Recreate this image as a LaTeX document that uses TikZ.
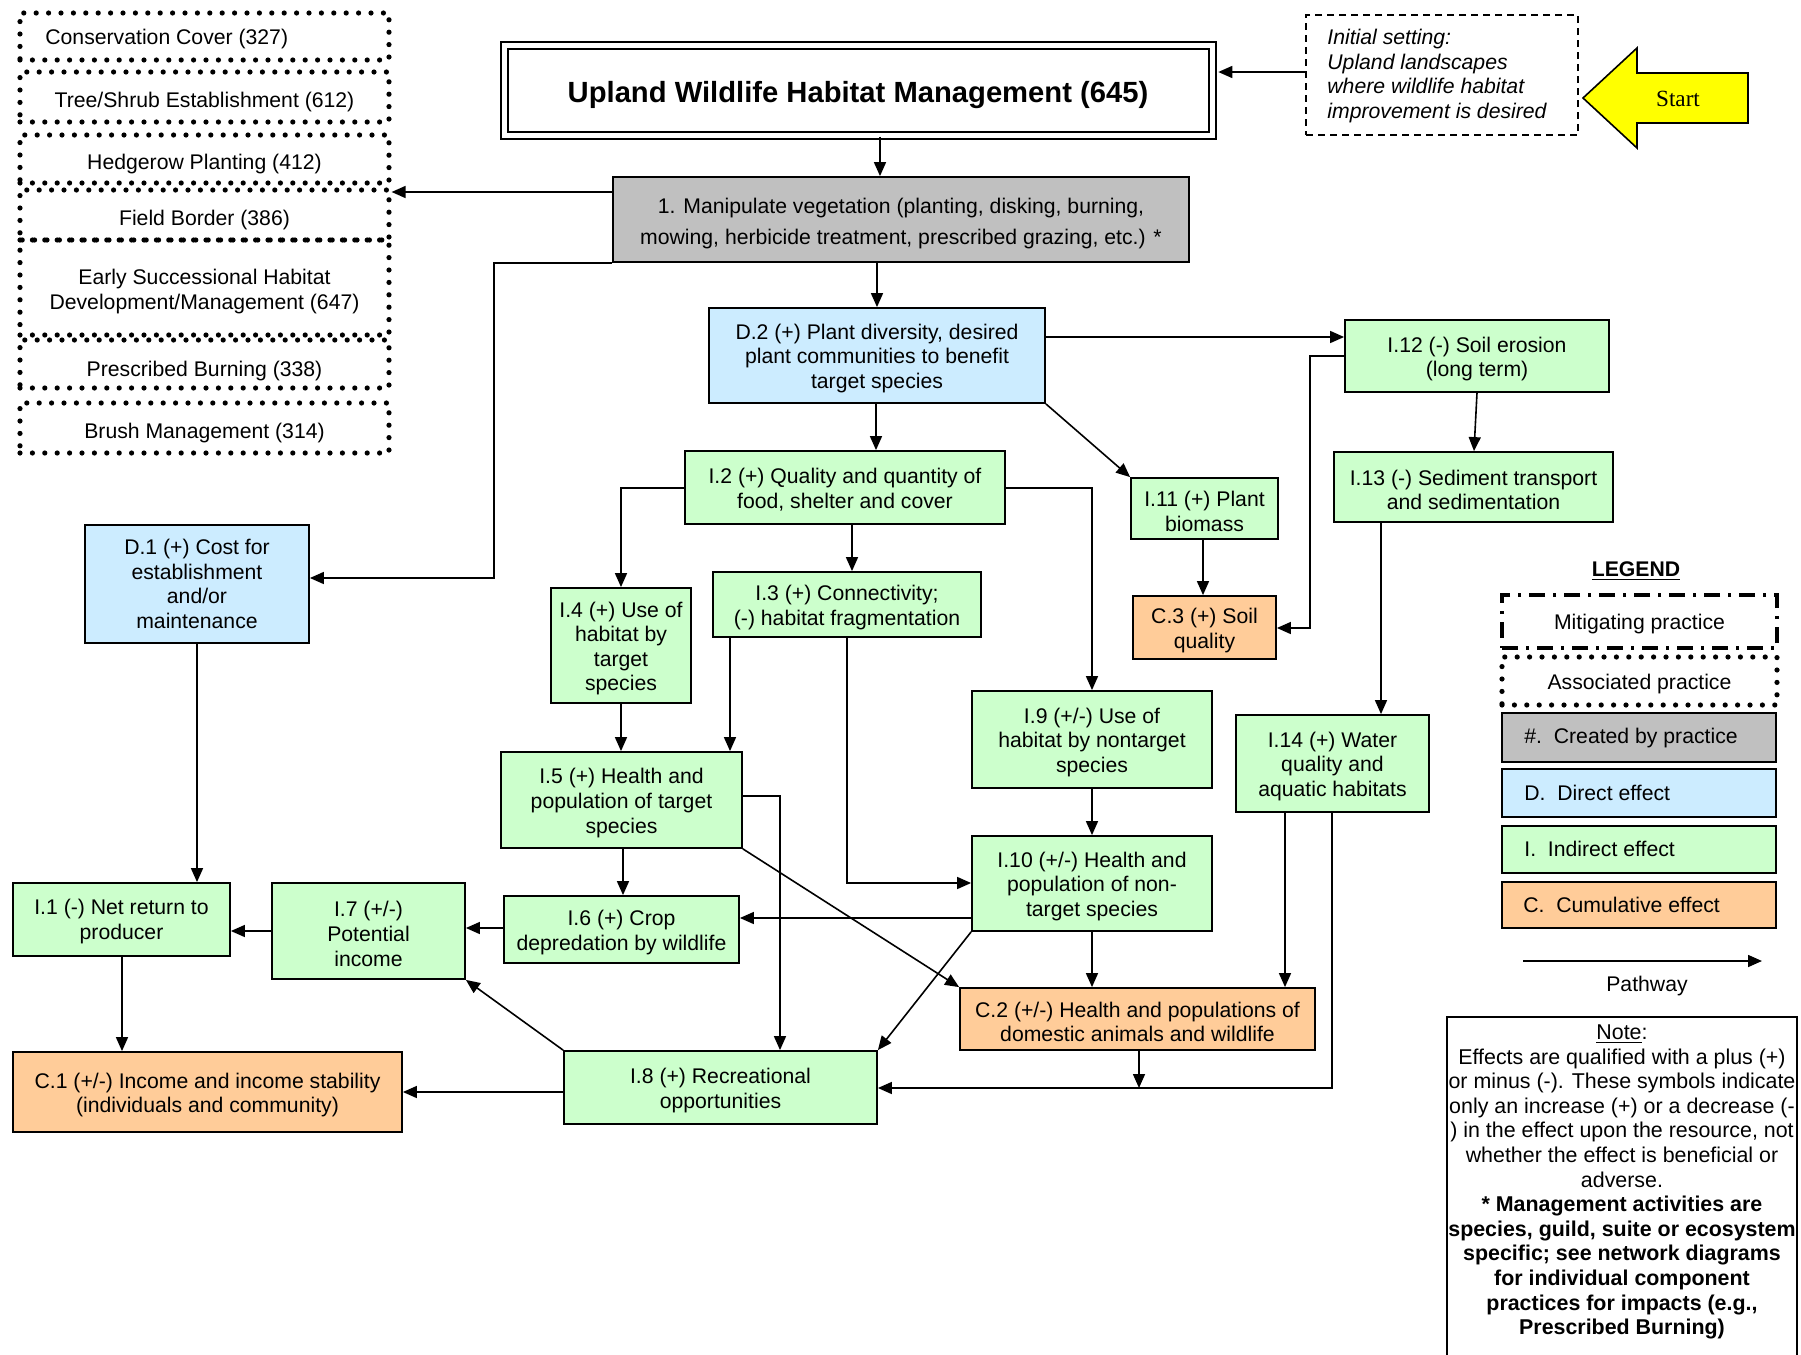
\documentclass[tikz,border=0pt]{standalone}
\usepackage{fontspec}
\setmainfont{Liberation Sans}
\newfontfamily\startfont{Liberation Serif}
\usetikzlibrary{arrows.meta,fit}
\definecolor{cgray}{HTML}{C0C0C0}
\definecolor{cblue}{HTML}{CCECFF}
\definecolor{cgreen}{HTML}{CCFFCC}
\definecolor{corange}{HTML}{FFCC99}
\definecolor{cyellow}{HTML}{FFFF00}
% box node (fit) plus centred text node
\newcommand\bnode[5][]{%
  \node[#2, fit={#3}] (#4) {};
  \node[txt, align=center, yshift=-1.5pt, #1] (#4t) at (#4.center) {#5};}
\begin{document}
\begin{tikzpicture}[x=0.5pt,y=-0.5pt,
  base/.style={font=\fontsize{10.6}{12.3}\selectfont},
  bx/.style={draw, line width=0.9pt, inner sep=0pt},
  grn/.style={bx, fill=cgreen},
  blu/.style={bx, fill=cblue},
  org/.style={bx, fill=corange},
  gry/.style={bx, fill=cgray},
  dotbox/.style={draw, line width=2.6pt, line cap=round, dash pattern=on 0pt off 6.2pt, inner sep=0pt},
  dashdotbox/.style={draw, line width=2.2pt, dash pattern=on 8pt off 4pt on 1.5pt off 4pt, inner sep=0pt},
  txt/.style={inner sep=0pt, base},
  arr/.style={line width=0.8pt, -{Triangle[length=7pt,width=6pt]}}]
\fill[white] (0,0) rectangle (1801,1355);
\useasboundingbox (0,0) rectangle (1801,1355);

% practice boxes
\node[dotbox, fit={(20,13)(389,60)}] (p1) {};
\node[txt, anchor=west] (p1t) at (45,39) {Conservation Cover (327)};
\bnode[yshift=-1pt]{dotbox}{(20,72)(389,122)}{p2}{Tree/Shrub Establishment (612)}
\bnode[yshift=-1pt]{dotbox}{(20,135)(389,183)}{p3}{Hedgerow Planting (412)}
\bnode[yshift=-1pt]{dotbox}{(20,190)(389,240)}{p4}{Field Border (386)}
\bnode[yshift=-0.5pt]{dotbox}{(20,240)(389,335)}{p5}{Early Successional Habitat\\Development/Management (647)}
\bnode[yshift=-2pt]{dotbox}{(20,340)(389,388)}{p6}{Prescribed Burning (338)}
\bnode[yshift=-1pt]{dotbox}{(20,403)(389,453)}{p7}{Brush Management (314)}

% title
\node[draw, line width=1.2pt, double, double distance=2.2pt, inner sep=0pt,
      fit={(504.5,45.3)(1212.5,135.5)}] (title) {};
\node[inner sep=0pt, font=\fontsize{14.6}{17}\selectfont\bfseries] (titlet) at (858,95)
      {Upland Wildlife Habitat Management (645)};

% initial setting
\node[draw, line width=0.9pt, dash pattern=on 3.5pt off 2.5pt, inner sep=0pt,
      fit={(1306,15)(1578,135)}] (init) {};
\node[inner sep=0pt, align=left, anchor=west, font=\fontsize{10.6}{12.4}\selectfont\itshape] (initt)
      at (1327,76) {Initial setting:\\Upland landscapes\\where wildlife habitat\\improvement is desired};

% start arrow
\draw[fill=cyellow, line width=0.8pt] (1583,98) -- (1637,48) -- (1637,73) -- (1748,73)
      -- (1748,123) -- (1637,123) -- (1637,148) -- cycle;
\node[inner sep=0pt, font=\startfont\fontsize{11.6}{14}\selectfont] (start) at (1678,99) {Start};

% main boxes
\bnode[yshift=-0.75pt, font=\fontsize{10.6}{15.5}\selectfont]{gry}{(613,177)(1189,262)}{g1}
  {1. Manipulate vegetation (planting, disking, burning,\\mowing, herbicide treatment, prescribed grazing, etc.) *}
\bnode{blu}{(709,308)(1045,403)}{d2}{D.2 (+) Plant diversity, desired\\plant communities to benefit\\target species}
\bnode{grn}{(1345,320)(1609,392)}{i12}{I.12 (-) Soil erosion\\(long term)}
\bnode{grn}{(1334,452)(1613,522)}{i13}{I.13 (-) Sediment transport\\and sedimentation}
\bnode{grn}{(1131,478)(1278,539)}{i11}{I.11 (+) Plant\\biomass}
\bnode{org}{(1133,596)(1276,659)}{c3}{C.3 (+) Soil\\quality}
\bnode{grn}{(1236,715)(1429,812)}{i14}{I.14 (+) Water\\quality and\\aquatic habitats}
\bnode{org}{(960,988)(1315,1050)}{c2}{C.2 (+/-) Health and populations of\\domestic animals and wildlife}
\bnode[yshift=0.5pt]{grn}{(685,451)(1005,524)}{i2}{I.2 (+) Quality and quantity of\\food, shelter and cover}
\bnode{grn}{(551,588)(691,703)}{i4}{I.4 (+) Use of\\habitat by\\target\\species}
\bnode{grn}{(713,572)(981,637)}{i3}{I.3 (+) Connectivity;\\(-) habitat fragmentation}
\bnode[yshift=1.5pt]{blu}{(85,525)(309,643)}{d1}{D.1 (+) Cost for\\establishment\\and/or\\maintenance}
\bnode{grn}{(972,691)(1212,788)}{i9}{I.9 (+/-) Use of\\habitat by nontarget\\species}
\bnode{grn}{(972,836)(1212,931)}{i10}{I.10 (+/-) Health and\\population of non-\\target species}
\bnode{grn}{(501,752)(742,848)}{i5}{I.5 (+) Health and\\population of target\\species}
\bnode{grn}{(504,896)(739,963)}{i6}{I.6 (+) Crop\\depredation by wildlife}
\bnode{grn}{(272,883)(465,979)}{i7}{I.7 (+/-)\\Potential\\income}
\bnode[yshift=0.5pt]{grn}{(13,883)(230,956)}{i1}{I.1 (-) Net return to\\producer}
\bnode{grn}{(564,1051)(877,1124)}{i8}{I.8 (+) Recreational\\opportunities}
\bnode{org}{(13,1052)(402,1132)}{c1}{C.1 (+/-) Income and income stability\\(individuals and community)}
\coordinate (j) at (1139,1088);

% connectors
\draw[arr] (title.south -| 880,0) -- (g1.north -| 880,0);
\draw[arr, shorten >=2.3pt] (init.west |- 0,72) -- (title.east |- 0,72);
\draw[arr] (g1.west |- 0,192) -- (p4.east |- 0,192);
\draw[arr] (g1.south west) -| (494,578) -- (d1.east |- 0,578);
\draw[arr] (g1.south -| 877,0) -- (d2.north -| 877,0);
\draw[arr] (d2.east |- 0,337) -- (i12.west |- 0,337);
\draw[arr] (d2.south east) -- (i11.north west);
\draw[arr] (d2.south -| 876,0) -- (i2.north -| 876,0);
\draw[arr] (i12.west |- 0,356) -| (1310,628) -- (c3.east |- 0,628);
\draw[arr] (i12.south -| 1477,0) -- (i13.north -| 1474,0);
\draw[arr] (i13.south -| 1381,0) -- (i14.north -| 1381,0);
\draw[arr] (i11.south -| 1203,0) -- (c3.north -| 1203,0);
\draw[arr] (i14.south -| 1285,0) -- (c2.north -| 1285,0);
\draw[arr] (i14.south -| 1332,0) |- (i8.east |- 0,1088);
\draw[arr] (c2.south -| j) -- (j);
\draw[arr] (i2.west |- 0,488) -| (i4.north);
\draw[arr] (i2.south -| 852,0) -- (i3.north -| 852,0);
\draw[arr] (i2.east |- 0,488) -| (i9.north);
\draw[arr] (i4.south) -- (i5.north -| i4.south);
\draw[arr] (i3.south -| 730,0) -- (i5.north -| 730,0);
\draw[arr] (i3.south -| 847,0) |- (i10.west |- 0,883);
\draw[arr] (d1.south) -- (i1.north -| d1.south);
\draw[arr] (i9.south) -- (i10.north);
\draw[arr] (i10.west |- 0,918) -- (i6.east |- 0,918);
\draw[arr] (i10.south) -- (c2.north -| i10.south);
\draw[arr] (i10.south west) -- (i8.north east);
\draw[arr] (i5.east |- 0,796) -| (i8.north -| 780,0);
\draw[arr] (i5.south east) -- (c2.north west);
\draw[arr] (i5.south -| 623,0) -- (i6.north -| 623,0);
\draw[arr] (i6.west |- 0,928) -- (i7.east |- 0,928);
\draw[arr] (i7.west |- 0,931) -- (i1.east |- 0,931);
\draw[arr] (i1.south -| 122,0) -- (c1.north -| 122,0);
\draw[arr] (i8.north west) -- (i7.south east);
\draw[arr] (i8.west |- 0,1092) -- (c1.east |- 0,1092);

% legend
\node[txt, font=\fontsize{10.6}{12.3}\selectfont\bfseries] (leg) at (1636,571) {\underline{LEGEND}};
\bnode{dashdotbox}{(1502,595)(1777,648)}{lm}{Mitigating practice}
\bnode{dotbox}{(1502,657)(1777,705)}{la}{Associated practice}
\node[gry, fit={(1502,713)(1776,762)}] (lg) {};
\node[txt, anchor=west] (lgt) at (1524,738) {\#.\ \ Created by practice};
\node[blu, fit={(1502,769)(1776,817)}] (lb) {};
\node[txt, anchor=west] (lbt) at (1524,793) {D.\ \ Direct effect};
\node[grn, fit={(1502,826)(1776,873)}] (li) {};
\node[txt, anchor=west] (lit) at (1524,849) {I.\ \ Indirect effect};
\node[org, fit={(1502,882)(1776,928)}] (lc) {};
\node[txt, anchor=west] (lct) at (1523,905) {C.\ \ Cumulative effect};
\coordinate (pa) at (1523,961);
\coordinate (pb) at (1762,961);
\draw[arr] (pa) -- (pb);
\node[txt] (pw) at (1647,986) {Pathway};

% note
\draw[line width=0.9pt] (1447,1365) -- (1447,1017) -- (1797,1017) -- (1797,1365);
\node[txt, align=center, font=\fontsize{10.7}{12.3}\selectfont] (note) at (1622,1182)
 {\underline{Note}:\\
  Effects are qualified with a plus (+)\\
  or minus (-). These symbols indicate\\
  only an increase (+) or a decrease (-\\
  ) in the effect upon the resource, not\\
  whether the effect is beneficial or\\
  adverse.\\
  \textbf{* Management activities are}\\
  \textbf{species, guild, suite or ecosystem}\\
  \textbf{specific; see network diagrams}\\
  \textbf{for individual component}\\
  \textbf{practices for impacts (e.g.,}\\
  \textbf{Prescribed Burning)}};
\end{tikzpicture}
\end{document}
